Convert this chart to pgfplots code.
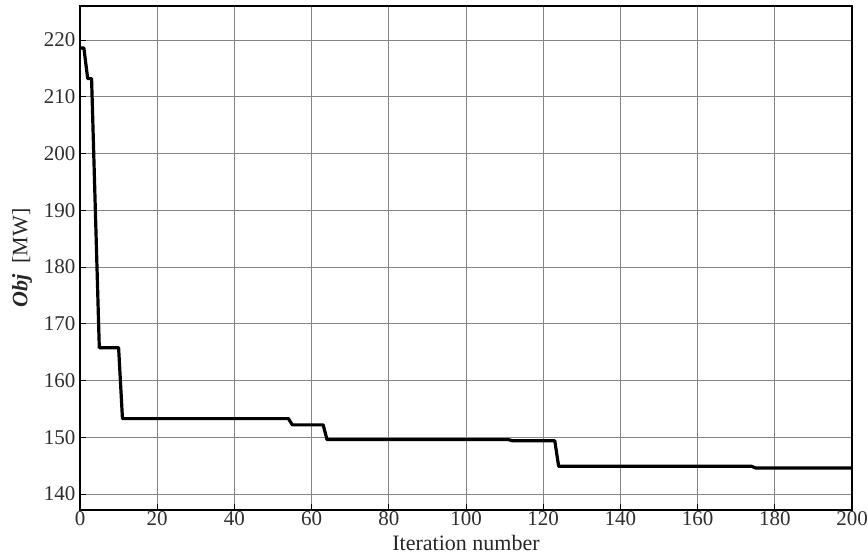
\documentclass[border=0pt]{standalone}
\usepackage{fontspec}
\setmainfont{Liberation Serif}
\usepackage{pgfplots}
\pgfplotsset{compat=1.18}
\begin{document}
\begin{tikzpicture}
\useasboundingbox (-80bp,-45bp) rectangle (788bp,510bp);
\begin{axis}[
  at={(0,0)}, anchor=south west,
  scale only axis,
  width=772bp, height=504bp,
  xmin=0, xmax=200, ymin=137.2, ymax=226,
  xtick={0,20,...,200}, ytick={140,150,...,220},
  grid=major,
  major grid style={draw=black!48, line width=0.8bp},
  axis line style={black, line width=1.4bp},
  tick style={black, line width=1bp},
  tick align=inside,
  major tick length=6bp,
  xtick pos=bottom, ytick pos=left,
  /pgf/number format/assume math mode=true,
  ticklabel style={font=\fontsize{21bp}{23bp}\selectfont, text=black!82},
  label style={font=\fontsize{22bp}{25bp}\selectfont, text=black!85},
  xlabel={Iteration number},
  ylabel={\textbf{\textit{Obj}}\ \ [MW]},
  xlabel style={at={(axis description cs:0.5,-0.0655)}, anchor=center},
  ylabel style={at={(axis description cs:-0.0751,0.5)}, anchor=center},
  xticklabel style={yshift=2bp},
  yticklabel style={xshift=-1bp},
]
\addplot[black, line width=3.2bp, line join=round] coordinates {
(0,218.6) (1,218.6) (2,213.2) (3,213.2) (5,165.8) (10,165.8) (11,153.3)
(54,153.3) (55,152.2) (63,152.2) (64,149.6) (111,149.6) (112,149.4)
(123,149.4) (124,144.9) (174,144.9) (175,144.6) (200,144.6)
};
\end{axis}
\end{tikzpicture}
\end{document}
